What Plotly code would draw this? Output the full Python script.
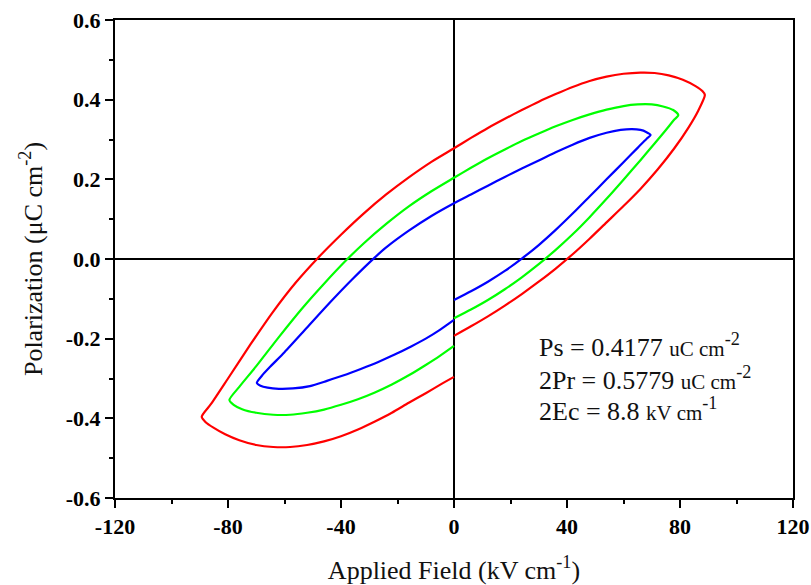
import plotly.graph_objects as go

# ---- data ----
# each loop: rising branch from E=0 to the positive tip, upper branch back to the
# negative tip, lower branch back to E=0
red_E = [0, 6, 12, 18, 24, 30, 36, 42, 48, 54, 60, 66, 72, 78, 83, 86.5, 88.8,
         88.0, 85.5, 81, 76, 71, 66, 60, 54, 48, 42, 36, 30, 24, 18, 12, 6, 0,
         -8, -16, -24, -32, -40, -48, -56, -64, -72, -80, -86, -89.3,
         -88, -85, -81, -76, -70, -64, -58, -52, -46, -40, -34, -28, -22, -16, -10, -5, 0]
red_P = [-0.193, -0.169, -0.144, -0.117, -0.088, -0.057, -0.024, 0.012, 0.051, 0.092, 0.133, 0.176, 0.224, 0.278, 0.330, 0.373, 0.412,
         0.421, 0.434, 0.450, 0.461, 0.467, 0.468, 0.465, 0.458, 0.447, 0.432, 0.414, 0.395, 0.374, 0.352, 0.329, 0.304, 0.278,
         0.244, 0.205, 0.162, 0.114, 0.061, 0.004, -0.059, -0.132, -0.214, -0.300, -0.364, -0.396,
         -0.409, -0.424, -0.440, -0.455, -0.467, -0.472, -0.472, -0.467, -0.458, -0.445, -0.428, -0.408, -0.386, -0.361, -0.337, -0.316, -0.296]

green_E = [0, 6, 12, 18, 24, 30, 36, 42, 48, 54, 60, 66, 71, 75, 78, 79.4,
           77.6, 74, 70, 65, 60, 54, 48, 42, 36, 30, 24, 18, 12, 6, 0,
           -8, -16, -24, -32, -38, -46, -54, -62, -70, -76, -79.5,
           -78, -75, -70, -64, -58, -52, -46, -40, -34, -28, -22, -16, -10, -5, 0]
green_P = [-0.149, -0.127, -0.103, -0.076, -0.046, -0.013, 0.023, 0.062, 0.105, 0.151, 0.199, 0.248, 0.290, 0.324, 0.350, 0.361,
           0.374, 0.383, 0.388, 0.388, 0.384, 0.375, 0.363, 0.349, 0.333, 0.315, 0.296, 0.275, 0.253, 0.229, 0.204,
           0.170, 0.132, 0.088, 0.039, -0.002, -0.062, -0.126, -0.196, -0.269, -0.321, -0.354,
           -0.366, -0.377, -0.386, -0.391, -0.391, -0.386, -0.378, -0.366, -0.352, -0.335, -0.315, -0.292, -0.266, -0.243, -0.218]

blue_E = [0, 6, 12, 18, 24, 30, 36, 42, 48, 54, 60, 65, 68.2, 69.6,
          68, 66, 63, 59, 54, 48, 42, 36, 30, 24, 18, 12, 6, 0,
          -8, -16, -24, -28, -36, -44, -52, -60, -65, -68, -69.8,
          -68.5, -66, -62, -57, -51, -45, -39, -33, -27, -21, -15, -10, -5, 0]
blue_P = [-0.103, -0.081, -0.057, -0.030, 0.001, 0.035, 0.073, 0.114, 0.157, 0.200, 0.243, 0.279, 0.302, 0.311,
          0.319, 0.324, 0.326, 0.324, 0.317, 0.304, 0.287, 0.268, 0.247, 0.227, 0.206, 0.184, 0.162, 0.140,
          0.108, 0.071, 0.029, 0.004, -0.051, -0.110, -0.172, -0.234, -0.270, -0.293, -0.311,
          -0.318, -0.323, -0.326, -0.325, -0.319, -0.306, -0.292, -0.276, -0.259, -0.240, -0.219, -0.200, -0.178, -0.153]

x_ticks = [-120, -80, -40, 0, 40, 80, 120]
x_labels = ["-120", "-80", "-40", "0", "40", "80", "120"]
y_ticks = [-0.6, -0.4, -0.2, 0.0, 0.2, 0.4, 0.6]
y_labels = ["-0.6", "-0.4", "-0.2", "0.0", "0.2", "0.4", "0.6"]

notes = [
    ("Ps = 0.4177", "uC cm", "-2"),
    ("2Pr = 0.5779", "uC cm", "-2"),
    ("2Ec = 8.8", "kV cm", "-1"),
]

# ---- figure ----
FONT = "Liberation Serif"
fig = go.Figure()
for E, P, col in [(red_E, red_P, "#ff0000"), (green_E, green_P, "#00ff00"), (blue_E, blue_P, "#0000ff")]:
    fig.add_trace(go.Scatter(x=E, y=P, mode="lines",
                             line=dict(color=col, width=2.2, shape="spline", smoothing=0.7),
                             showlegend=False, hoverinfo="skip"))

axis_common = dict(
    showline=True, linecolor="black", linewidth=2, mirror=True,
    ticks="outside", ticklen=8, tickwidth=2, tickcolor="black",
    showgrid=False, zeroline=True, zerolinecolor="black", zerolinewidth=2,
    tickfont=dict(family=FONT, size=22, color="black", weight="bold"),
    ticklabeloverflow="allow",
)

fig.update_xaxes(**axis_common, range=[-120, 120], tickmode="array", tickvals=x_ticks, ticktext=x_labels,
                 minor=dict(ticks="outside", dtick=20, ticklen=4, tickwidth=2, tickcolor="black", tick0=0),
                 title=dict(text="Applied Field (kV cm<sup>-1</sup>)",
                            font=dict(family=FONT, size=26, color="#111"), standoff=26))
fig.update_yaxes(**axis_common, range=[-0.6, 0.6], tickmode="array", tickvals=y_ticks, ticktext=y_labels,
                 minor=dict(ticks="outside", dtick=0.1, ticklen=4, tickwidth=2, tickcolor="black", tick0=0),
                 title=dict(text="Polarization (μC cm<sup>-2</sup>)",
                            font=dict(family=FONT, size=26, color="#111"), standoff=16))

ys = [0.318, 0.251, 0.186]
for (main, unit, exp), yy in zip(notes, ys):
    fig.add_annotation(
        xref="paper", yref="paper", x=0.622, y=yy, xanchor="left", yanchor="middle",
        text=f"{main} <span style='font-size:21px'>{unit}</span><sup>{exp}</sup>",
        showarrow=False, font=dict(family=FONT, size=26, color="#111"))

fig.update_layout(
    width=811, height=585,
    margin=dict(l=115, r=18, t=20, b=87, autoexpand=False),
    paper_bgcolor="white", plot_bgcolor="white",
)

# remove the default page margin so the 811x585 figure fills the window exactly
fig.write_html("out.html", config={"displayModeBar": False},
               post_script="document.body.style.margin='0';document.body.style.overflow='hidden';")
